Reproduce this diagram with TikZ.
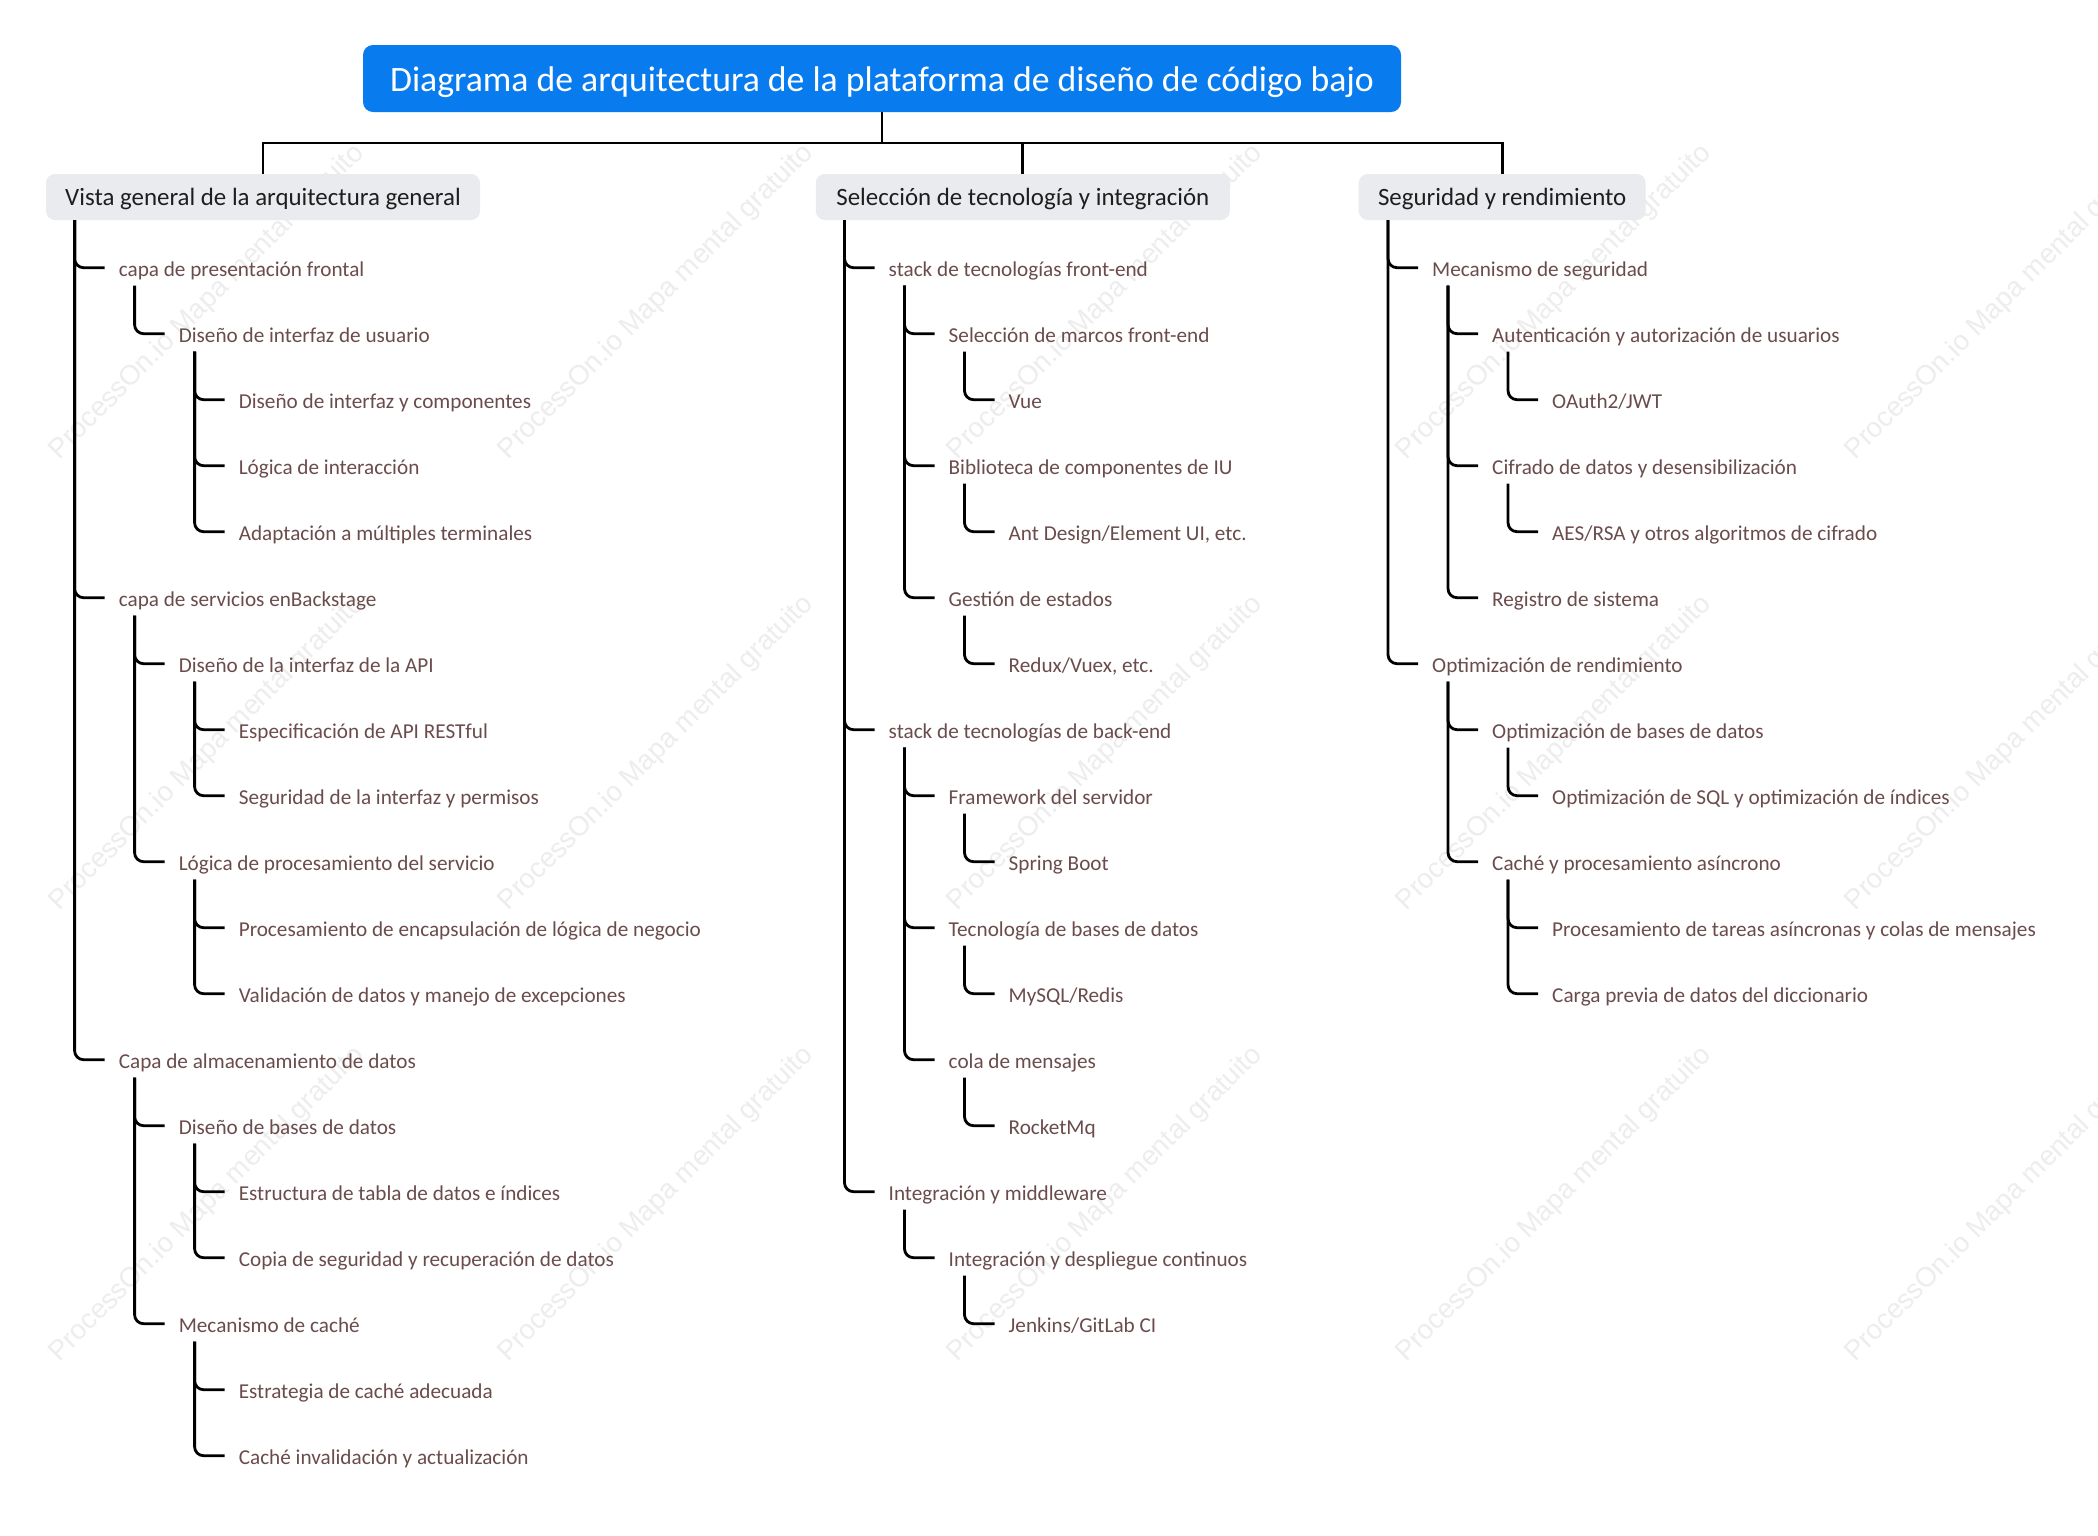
\documentclass[tikz,border=0pt]{standalone}
\usepackage{fontspec}
\setmainfont{Carlito}
\newfontfamily\wmfont{Liberation Sans}
\definecolor{titleblue}{HTML}{087BEF}
\definecolor{itemtext}{HTML}{6B4C4C}
\definecolor{hdrfill}{HTML}{E9EBEE}
\definecolor{hdrtext}{HTML}{1E1E1E}
\definecolor{wmgray}{HTML}{EDEDED}
\newcommand\mmhlink[2]{\draw[link] ([xshift=-30pt]#2.west |- #1.south) |- (#2.west);}
\newcommand\mmilink[2]{\draw[link] ([xshift=30pt,yshift=-18pt]#1.west) |- (#2.west);}
\begin{document}
\begin{tikzpicture}[x=1pt,y=-1pt,
 titlebox/.style={fill=titleblue, rounded corners=10pt, text=white, font=\fontsize{35.7}{40}\selectfont, minimum width=1038pt, minimum height=67pt, text height=28pt, text depth=2pt, inner sep=0pt},
 hdrbox/.style={fill=hdrfill, rounded corners=9pt, text=hdrtext, font=\fontsize{24.9}{28}\selectfont, minimum height=46pt, text height=18pt, text depth=2pt, inner ysep=0pt, inner xsep=18pt},
 item/.style={anchor=west, text=itemtext, font=\fontsize{21.2}{24}\selectfont, inner xsep=14pt, inner ysep=0pt, text height=20pt, text depth=2pt},
 link/.style={draw=black, line width=2.8pt, rounded corners=9pt},
 trunk/.style={draw=black, line width=2.8pt},
 wm/.style={text=wmgray, font=\wmfont\fontsize{27.6}{30}\selectfont, rotate=45, inner sep=0pt}
]
\useasboundingbox (0,0) rectangle (2098,1535);
\fill[white] (0,0) rectangle (2098,1535);
\begin{scope}
\clip (0,0) rectangle (2098,1535);
\foreach \x in {207,656,1105,1554,2003}{
  \foreach \y in {302,753,1204}{
    \node[wm] (wm-\x-\y) at (\x,\y) {ProcessOn.io Mapa mental gratuito};
  }
}
\end{scope}

% title and headers
\node[titlebox] (title) at (882,78.5) {Diagrama de arquitectura de la plataforma de diseño de código bajo};
\node[hdrbox, minimum width=434pt] (h1) at (263,197) {Vista general de la arquitectura general};
\node[hdrbox, minimum width=414pt] (h2) at (1022.8,197) {Selección de tecnología y integración};
\node[hdrbox, minimum width=287pt] (h3) at (1502.2,197) {Seguridad y rendimiento};
\coordinate (bus) at (882,143);
\draw[trunk] (title.south) -- (bus);
\draw[trunk] (h1.north) |- (bus) -| (h3.north);
\draw[trunk] (h2.north) -- (h2.north |- bus);

\begin{scope}[yshift=1.3pt]
% column 1
\node[item] (a0) at (104.6,269) {capa de presentación frontal};
\node[item] (a1) at (164.6,335) {Diseño de interfaz de usuario};
\node[item] (a2) at (224.6,401) {Diseño de interfaz y componentes};
\node[item] (a3) at (224.6,467) {Lógica de interacción};
\node[item] (a4) at (224.6,533) {Adaptación a múltiples terminales};
\node[item] (a5) at (104.6,599) {capa de servicios enBackstage};
\node[item] (a6) at (164.6,665) {Diseño de la interfaz de la API};
\node[item] (a7) at (224.6,731) {Especificación de API RESTful};
\node[item] (a8) at (224.6,797) {Seguridad de la interfaz y permisos};
\node[item] (a9) at (164.6,863) {Lógica de procesamiento del servicio};
\node[item] (a10) at (224.6,929) {Procesamiento de encapsulación de lógica de negocio};
\node[item] (a11) at (224.6,995) {Validación de datos y manejo de excepciones};
\node[item] (a12) at (104.6,1061) {Capa de almacenamiento de datos};
\node[item] (a13) at (164.6,1127) {Diseño de bases de datos};
\node[item] (a14) at (224.6,1193) {Estructura de tabla de datos e índices};
\node[item] (a15) at (224.6,1259) {Copia de seguridad y recuperación de datos};
\node[item] (a16) at (164.6,1325) {Mecanismo de caché};
\node[item] (a17) at (224.6,1391) {Estrategia de caché adecuada};
\node[item] (a18) at (224.6,1457) {Caché invalidación y actualización};

% column 2
\node[item] (b0) at (874.5,269) {stack de tecnologías front-end};
\node[item] (b1) at (934.5,335) {Selección de marcos front-end};
\node[item] (b2) at (994.5,401) {Vue};
\node[item] (b3) at (934.5,467) {Biblioteca de componentes de IU};
\node[item] (b4) at (994.5,533) {Ant Design/Element UI, etc.};
\node[item] (b5) at (934.5,599) {Gestión de estados};
\node[item] (b6) at (994.5,665) {Redux/Vuex, etc.};
\node[item] (b7) at (874.5,731) {stack de tecnologías de back-end};
\node[item] (b8) at (934.5,797) {Framework del servidor};
\node[item] (b9) at (994.5,863) {Spring Boot};
\node[item] (b10) at (934.5,929) {Tecnología de bases de datos};
\node[item] (b11) at (994.5,995) {MySQL/Redis};
\node[item] (b12) at (934.5,1061) {cola de mensajes};
\node[item] (b13) at (994.5,1127) {RocketMq};
\node[item] (b14) at (874.5,1193) {Integración y middleware};
\node[item] (b15) at (934.5,1259) {Integración y despliegue continuos};
\node[item] (b16) at (994.5,1325) {Jenkins/GitLab CI};

% column 3
\node[item] (c0) at (1418,269) {Mecanismo de seguridad};
\node[item] (c1) at (1478,335) {Autenticación y autorización de usuarios};
\node[item] (c2) at (1538,401) {OAuth2/JWT};
\node[item] (c3) at (1478,467) {Cifrado de datos y desensibilización};
\node[item] (c4) at (1538,533) {AES/RSA y otros algoritmos de cifrado};
\node[item] (c5) at (1478,599) {Registro de sistema};
\node[item] (c6) at (1418,665) {Optimización de rendimiento};
\node[item] (c7) at (1478,731) {Optimización de bases de datos};
\node[item] (c8) at (1538,797) {Optimización de SQL y optimización de índices};
\node[item] (c9) at (1478,863) {Caché y procesamiento asíncrono};
\node[item] (c10) at (1538,929) {Procesamiento de tareas asíncronas y colas de mensajes};
\node[item] (c11) at (1538,995) {Carga previa de datos del diccionario};
\end{scope}

\mmhlink{h1}{a0}\mmhlink{h1}{a5}\mmhlink{h1}{a12}
\mmilink{a0}{a1}
\mmilink{a1}{a2}\mmilink{a1}{a3}\mmilink{a1}{a4}
\mmilink{a5}{a6}\mmilink{a5}{a9}
\mmilink{a6}{a7}\mmilink{a6}{a8}
\mmilink{a9}{a10}\mmilink{a9}{a11}
\mmilink{a12}{a13}\mmilink{a12}{a16}
\mmilink{a13}{a14}\mmilink{a13}{a15}
\mmilink{a16}{a17}\mmilink{a16}{a18}

\mmhlink{h2}{b0}\mmhlink{h2}{b7}\mmhlink{h2}{b14}
\mmilink{b0}{b1}\mmilink{b0}{b3}\mmilink{b0}{b5}
\mmilink{b1}{b2}\mmilink{b3}{b4}\mmilink{b5}{b6}
\mmilink{b7}{b8}\mmilink{b7}{b10}\mmilink{b7}{b12}
\mmilink{b8}{b9}\mmilink{b10}{b11}\mmilink{b12}{b13}
\mmilink{b14}{b15}\mmilink{b15}{b16}

\mmhlink{h3}{c0}\mmhlink{h3}{c6}
\mmilink{c0}{c1}\mmilink{c0}{c3}\mmilink{c0}{c5}
\mmilink{c1}{c2}\mmilink{c3}{c4}
\mmilink{c6}{c7}\mmilink{c6}{c9}
\mmilink{c7}{c8}
\mmilink{c9}{c10}\mmilink{c9}{c11}
\end{tikzpicture}
\end{document}
